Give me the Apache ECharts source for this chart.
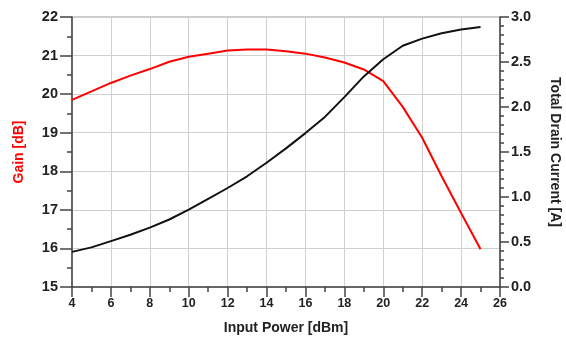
<!DOCTYPE html>
<html><head><meta charset="utf-8">
<script src="https://cdn.jsdelivr.net/npm/echarts@6/dist/echarts.min.js"></script>
<style>html,body{margin:0;padding:0;background:#fff}#c{width:566px;height:343px}</style>
</head><body><div id="c"></div>
<script>
const inputPower = [4,5,6,7,8,9,10,11,12,13,14,15,16,17,18,19,20,21,22,23,24,25];
const gain = [19.85,20.07,20.29,20.48,20.65,20.84,20.97,21.05,21.13,21.16,21.16,21.11,21.05,20.95,20.82,20.64,20.34,19.67,18.87,17.87,16.92,15.98];
const current = [0.39,0.44,0.51,0.58,0.66,0.75,0.86,0.98,1.10,1.23,1.38,1.54,1.71,1.89,2.11,2.34,2.53,2.68,2.76,2.82,2.86,2.89];

const font = 'Liberation Sans, Arial, sans-serif';
const chart = echarts.init(document.getElementById('c'));
const tickColor = '#444';
const axisLine = {show:true, lineStyle:{color:tickColor, width:1.5}};
chart.setOption({
  animation:false,
  grid:{left:72, right:66, top:17, bottom:56, show:true, borderColor:'#999', borderWidth:1,
    outerBoundsMode:'none', containLabel:false},
  xAxis:{type:'value', min:4, max:26, interval:2,
    name:'Input Power [dBm]', nameLocation:'middle', nameGap:34,
    nameTextStyle:{fontFamily:font, fontWeight:'bold', fontSize:14, color:'#222'},
    axisLine:axisLine,
    axisTick:{show:true, inside:false, length:10, lineStyle:{color:tickColor, width:1.5}},
    minorTick:{show:true, splitNumber:2, length:5, lineStyle:{color:tickColor, width:1.5}},
    axisLabel:{fontFamily:font, fontWeight:'bold', fontSize:12.5, color:'#222', margin:10},
    splitLine:{show:true, lineStyle:{color:'#d0d0d0'}}
  },
  yAxis:[
    {type:'value', min:15, max:22, interval:1, position:'left',
      name:'Gain [dB]', nameLocation:'middle', nameGap:46, nameRotate:90,
      nameTextStyle:{fontFamily:font, fontWeight:'bold', fontSize:14, color:'#ff0000'},
      axisLine:axisLine,
      axisTick:{show:true, inside:false, length:12, lineStyle:{color:tickColor, width:1.5}},
      minorTick:{show:true, splitNumber:2, length:5, lineStyle:{color:tickColor, width:1.5}},
      axisLabel:{fontFamily:font, fontWeight:'bold', fontSize:14.5, color:'#222', margin:14},
      splitLine:{show:true, lineStyle:{color:'#d0d0d0'}}
    },
    {type:'value', min:0, max:3, interval:0.5, position:'right',
      name:'Total Drain Current [A]', nameLocation:'middle', nameGap:48, nameRotate:-90,
      nameTextStyle:{fontFamily:font, fontWeight:'bold', fontSize:14, color:'#222'},
      axisLine:axisLine,
      axisTick:{show:true, inside:false, length:9, lineStyle:{color:tickColor, width:1.5}},
      minorTick:{show:true, splitNumber:5, length:4, lineStyle:{color:tickColor, width:1.5}},
      axisLabel:{fontFamily:font, fontWeight:'bold', fontSize:14.5, color:'#222', margin:11,
        formatter:v=>v.toFixed(1)},
      splitLine:{show:false}
    }
  ],
  series:[
    {type:'line', yAxisIndex:0, data:inputPower.map((x,i)=>[x,gain[i]]),
      showSymbol:false, smooth:false, lineStyle:{color:'#ff0000', width:2}, itemStyle:{color:'#ff0000'}},
    {type:'line', yAxisIndex:1, data:inputPower.map((x,i)=>[x,current[i]]),
      showSymbol:false, smooth:false, lineStyle:{color:'#111', width:2}, itemStyle:{color:'#111'}}
  ]
});
</script></body></html>
